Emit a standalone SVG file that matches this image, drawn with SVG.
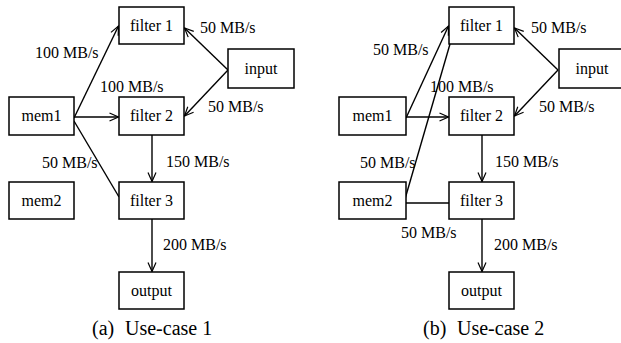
<svg xmlns="http://www.w3.org/2000/svg" width="621" height="343" viewBox="0 0 621 343">
<style>
.box{fill:#fff;stroke:#000;stroke-width:1.5}
.lbl{font-family:'Liberation Serif',serif;font-size:16px;fill:#000}
.nt{font-family:'Liberation Serif',serif;font-size:16px;fill:#000;text-anchor:middle}
.cap{font-family:'Liberation Serif',serif;font-size:20px;fill:#000}
.e{stroke:#000;stroke-width:1.4;fill:none}
.a{marker-end:url(#arr)}
</style>
<defs>
<marker id="arr" markerUnits="userSpaceOnUse" markerWidth="12" markerHeight="12" refX="10" refY="6" orient="auto">
<path d="M1,2 L10,6 L1,10" fill="none" stroke="#000" stroke-width="1.2"/>
</marker>
</defs>
<rect width="621" height="343" fill="#fff"/>
<g id="connectors">
<line class="e a" x1="74" y1="118" x2="118.5" y2="26"/>
<line class="e a" x1="74" y1="117" x2="118.5" y2="117"/>
<line class="e" x1="74" y1="121" x2="119" y2="197"/>
<line class="e a" x1="228" y1="70" x2="184.5" y2="28"/>
<line class="e a" x1="228" y1="70" x2="184.5" y2="116"/>
<line class="e a" x1="152" y1="135" x2="152" y2="181.5"/>
<line class="e a" x1="152" y1="219" x2="152" y2="271.5"/>
<line class="e a" x1="406" y1="118" x2="448.5" y2="26"/>
<line class="e a" x1="406" y1="117" x2="448.5" y2="117"/>
<line class="e" x1="405" y1="199" x2="450" y2="44"/>
<line class="e" x1="406" y1="203" x2="449" y2="203"/>
<line class="e a" x1="558" y1="70" x2="514.5" y2="28"/>
<line class="e a" x1="558" y1="70" x2="514.5" y2="116"/>
<line class="e a" x1="482" y1="135" x2="482" y2="181.5"/>
<line class="e a" x1="482" y1="219" x2="482" y2="271.5"/>
</g>
<g id="labels" font-family="Liberation Serif, serif">
<text class="lbl" x="35" y="58">100 MB/s</text>
<text class="lbl" x="200" y="33">50 MB/s</text>
<text class="lbl" x="100" y="92">100 MB/s</text>
<text class="lbl" x="208" y="112">50 MB/s</text>
<text class="lbl" x="166" y="167">150 MB/s</text>
<text class="lbl" x="42" y="168">50 MB/s</text>
<text class="lbl" x="163" y="250">200 MB/s</text>
<text class="lbl" x="373" y="55">50 MB/s</text>
<text class="lbl" x="531" y="33">50 MB/s</text>
<text class="lbl" x="430" y="92">100 MB/s</text>
<text class="lbl" x="539" y="112">50 MB/s</text>
<text class="lbl" x="360" y="168">50 MB/s</text>
<text class="lbl" x="495" y="167">150 MB/s</text>
<text class="lbl" x="401" y="238">50 MB/s</text>
<text class="lbl" x="494" y="250">200 MB/s</text>
</g>
<g id="a-filter1"><rect class="box" x="119" y="7" width="65" height="37"/><text class="nt" x="151.5" y="31">filter 1</text></g>
<g id="a-input"><rect class="box" x="228" y="49" width="66" height="39"/><text class="nt" x="261" y="74">input</text></g>
<g id="a-mem1"><rect class="box" x="9" y="97" width="65" height="38"/><text class="nt" x="41.5" y="121">mem1</text></g>
<g id="a-filter2"><rect class="box" x="119" y="97" width="65" height="38"/><text class="nt" x="151.5" y="121">filter 2</text></g>
<g id="a-mem2"><rect class="box" x="9" y="182" width="65" height="37"/><text class="nt" x="41.5" y="206">mem2</text></g>
<g id="a-filter3"><rect class="box" x="119" y="182" width="65" height="37"/><text class="nt" x="151.5" y="206">filter 3</text></g>
<g id="a-output"><rect class="box" x="119" y="272" width="65" height="37"/><text class="nt" x="151.5" y="296">output</text></g>
<g id="b-filter1"><rect class="box" x="449" y="7" width="65" height="37"/><text class="nt" x="481.5" y="31">filter 1</text></g>
<g id="b-input"><rect class="box" x="559" y="49" width="66" height="39"/><text class="nt" x="592" y="74">input</text></g>
<g id="b-mem1"><rect class="box" x="339" y="97" width="67" height="38"/><text class="nt" x="372.5" y="121">mem1</text></g>
<g id="b-filter2"><rect class="box" x="449" y="97" width="65" height="38"/><text class="nt" x="481.5" y="121">filter 2</text></g>
<g id="b-mem2"><rect class="box" x="339" y="182" width="67" height="37"/><text class="nt" x="372.5" y="206">mem2</text></g>
<g id="b-filter3"><rect class="box" x="449" y="182" width="65" height="37"/><text class="nt" x="481.5" y="206">filter 3</text></g>
<g id="b-output"><rect class="box" x="449" y="272" width="65" height="37"/><text class="nt" x="481.5" y="296">output</text></g>
<g id="captions">
<text class="cap" x="92" y="335">(a)<tspan x="125">Use-case 1</tspan></text>
<text class="cap" x="423" y="335">(b)<tspan x="457">Use-case 2</tspan></text>
</g>
</svg>
